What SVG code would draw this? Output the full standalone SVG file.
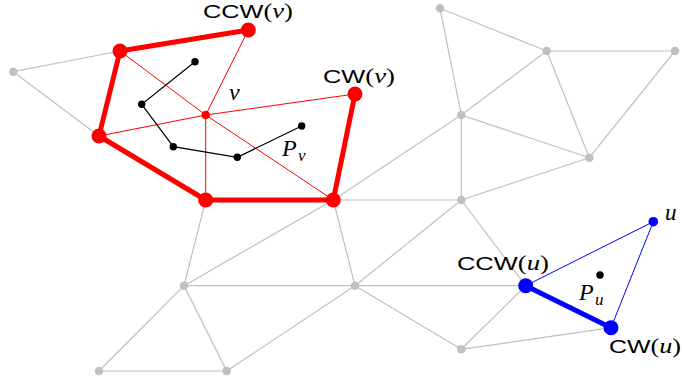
<svg xmlns="http://www.w3.org/2000/svg" width="682" height="383" viewBox="0 0 682 383">
<style>
.g{stroke:#c0c0c0;stroke-width:1.2;fill:none}
.rt{stroke:#ff0000;stroke-width:1;fill:none}
.rT{stroke:#ff0000;stroke-width:5;fill:none;stroke-linejoin:round}
.bk{stroke:#000;stroke-width:1.2;fill:none}
.bt{stroke:#0000ff;stroke-width:1;fill:none}
.bT{stroke:#0000ff;stroke-width:5;fill:none}
.gn{fill:#c0c0c0}
.rn{fill:#ff0000}
.kn{fill:#000}
.un{fill:#0000ff}
.lab{font-family:"Liberation Sans",Arial,sans-serif;font-size:19px;fill:#000}
.m{font-family:"Liberation Serif","Times New Roman",serif;font-size:22px;fill:#000}
.lm{font-family:"Liberation Serif","Times New Roman",serif;font-size:20px}
.i{font-style:italic}
</style>
<g id="connectors">
<g id="gray-edges">
<line class="g" x1="13.3" y1="71.7" x2="120" y2="51"/>
<line class="g" x1="13.3" y1="71.7" x2="99" y2="136"/>
<line class="g" x1="440" y1="8.3" x2="546.7" y2="51"/>
<line class="g" x1="440" y1="8.3" x2="461.3" y2="115"/>
<line class="g" x1="546.7" y1="51" x2="675" y2="51"/>
<line class="g" x1="546.7" y1="51" x2="461.3" y2="115"/>
<line class="g" x1="546.7" y1="51" x2="589.3" y2="157.7"/>
<line class="g" x1="675" y1="51" x2="589.3" y2="157.7"/>
<line class="g" x1="461.3" y1="115" x2="589.3" y2="157.7"/>
<line class="g" x1="461.3" y1="115" x2="461.3" y2="200"/>
<line class="g" x1="461.3" y1="115" x2="333.3" y2="200"/>
<line class="g" x1="461.3" y1="200" x2="589.3" y2="157.7"/>
<line class="g" x1="461.3" y1="200" x2="333.3" y2="200"/>
<line class="g" x1="461.3" y1="200" x2="355" y2="285.7"/>
<line class="g" x1="461.3" y1="200" x2="525.7" y2="285.7"/>
<line class="g" x1="205.7" y1="200" x2="184" y2="285.7"/>
<line class="g" x1="333.3" y1="200" x2="184" y2="285.7"/>
<line class="g" x1="333.3" y1="200" x2="355" y2="285.7"/>
<line class="g" x1="184" y1="285.7" x2="355" y2="285.7"/>
<line class="g" x1="184" y1="285.7" x2="99" y2="371"/>
<line class="g" x1="184" y1="285.7" x2="226.7" y2="371"/>
<line class="g" x1="99" y1="371" x2="226.7" y2="371"/>
<line class="g" x1="226.7" y1="371" x2="355" y2="285.7"/>
<line class="g" x1="355" y1="285.7" x2="525.7" y2="285.7"/>
<line class="g" x1="355" y1="285.7" x2="461.3" y2="349.3"/>
<line class="g" x1="525.7" y1="285.7" x2="461.3" y2="349.3"/>
<line class="g" x1="461.3" y1="349.3" x2="611" y2="327.7"/>
</g>
<g id="red-edges">
<line class="rt" x1="205.7" y1="115" x2="120" y2="51"/>
<line class="rt" x1="205.7" y1="115" x2="248.3" y2="30"/>
<line class="rt" x1="205.7" y1="115" x2="355" y2="94"/>
<line class="rt" x1="205.7" y1="115" x2="99" y2="136"/>
<line class="rt" x1="205.7" y1="115" x2="205.7" y2="200"/>
<line class="rt" x1="205.7" y1="115" x2="333.3" y2="200"/>
<polyline class="rT" points="248.3,30 120,51 99,136 205.7,200 333.3,200 355,94"/>
</g>
<g id="path-edges">
<polyline class="bk" points="195,61.7 141.7,104.3 173.3,146.7 237.3,157.3 301.7,126"/>
</g>
<g id="blue-edges">
<line class="bt" x1="653.3" y1="221.7" x2="525.7" y2="285.7"/>
<line class="bt" x1="653.3" y1="221.7" x2="611" y2="327.7"/>
<line class="bT" x1="525.7" y1="285.7" x2="611" y2="327.7"/>
</g>
</g>
<g id="gray-nodes">
<circle class="gn" cx="13.3" cy="71.7" r="4.3"/>
<circle class="gn" cx="440" cy="8.3" r="4.3"/>
<circle class="gn" cx="546.7" cy="51" r="4.3"/>
<circle class="gn" cx="675" cy="51" r="4.3"/>
<circle class="gn" cx="461.3" cy="115" r="4.3"/>
<circle class="gn" cx="589.3" cy="157.7" r="4.3"/>
<circle class="gn" cx="461.3" cy="200" r="4.3"/>
<circle class="gn" cx="184" cy="285.7" r="4.3"/>
<circle class="gn" cx="355" cy="285.7" r="4.3"/>
<circle class="gn" cx="99" cy="371" r="4.3"/>
<circle class="gn" cx="226.7" cy="371" r="4.3"/>
<circle class="gn" cx="461.3" cy="349.3" r="4.3"/>
</g>
<g id="red-nodes">
<circle class="rn" cx="120" cy="51" r="7.5"/>
<circle class="rn" cx="248.3" cy="30" r="7.5"/>
<circle class="rn" cx="355" cy="94" r="7.5"/>
<circle class="rn" cx="99" cy="136" r="7.5"/>
<circle class="rn" cx="205.7" cy="200" r="7.5"/>
<circle class="rn" cx="333.3" cy="200" r="7.5"/>
</g>
<g id="node-v"><circle class="rn" cx="205.7" cy="115" r="4.3"/>
<text class="m i" x="229" y="100" style="font-size:24px">v</text></g>
<g id="path-Pv">
<circle class="kn" cx="195" cy="61.7" r="3.7"/>
<circle class="kn" cx="141.7" cy="104.3" r="3.7"/>
<circle class="kn" cx="173.3" cy="146.7" r="3.7"/>
<circle class="kn" cx="237.3" cy="157.3" r="3.7"/>
<circle class="kn" cx="301.7" cy="126" r="3.7"/>
<text class="m i" x="282" y="156" style="font-size:24px">P</text>
<text class="m i" x="298" y="161" style="font-size:17px">v</text>
</g>
<g id="label-ccw-v"><text class="lab" x="203" y="18" textLength="90" lengthAdjust="spacingAndGlyphs">CCW<tspan class="lm">(</tspan><tspan class="lm i">v</tspan><tspan class="lm">)</tspan></text></g>
<g id="label-cw-v"><text class="lab" x="323" y="83" textLength="72" lengthAdjust="spacingAndGlyphs">CW<tspan class="lm">(</tspan><tspan class="lm i">v</tspan><tspan class="lm">)</tspan></text></g>
<g id="node-u"><circle class="un" cx="653.3" cy="221.7" r="4.8"/>
<text class="m i" x="665" y="220" style="font-size:23px">u</text></g>
<g id="node-ccw-u"><circle class="un" cx="525.7" cy="285.7" r="7.5"/>
<text class="lab" x="457" y="270" textLength="92" lengthAdjust="spacingAndGlyphs">CCW<tspan class="lm">(</tspan><tspan class="lm i">u</tspan><tspan class="lm">)</tspan></text></g>
<g id="node-cw-u"><circle class="un" cx="611" cy="327.7" r="7.5"/>
<text class="lab" x="609" y="353" textLength="72" lengthAdjust="spacingAndGlyphs">CW<tspan class="lm">(</tspan><tspan class="lm i">u</tspan><tspan class="lm">)</tspan></text></g>
<g id="point-Pu">
<circle class="kn" cx="600" cy="275" r="3.7"/>
<text class="m i" x="579" y="300" style="font-size:24px">P</text>
<text class="m i" x="595" y="305" style="font-size:17px">u</text>
</g>
</svg>
